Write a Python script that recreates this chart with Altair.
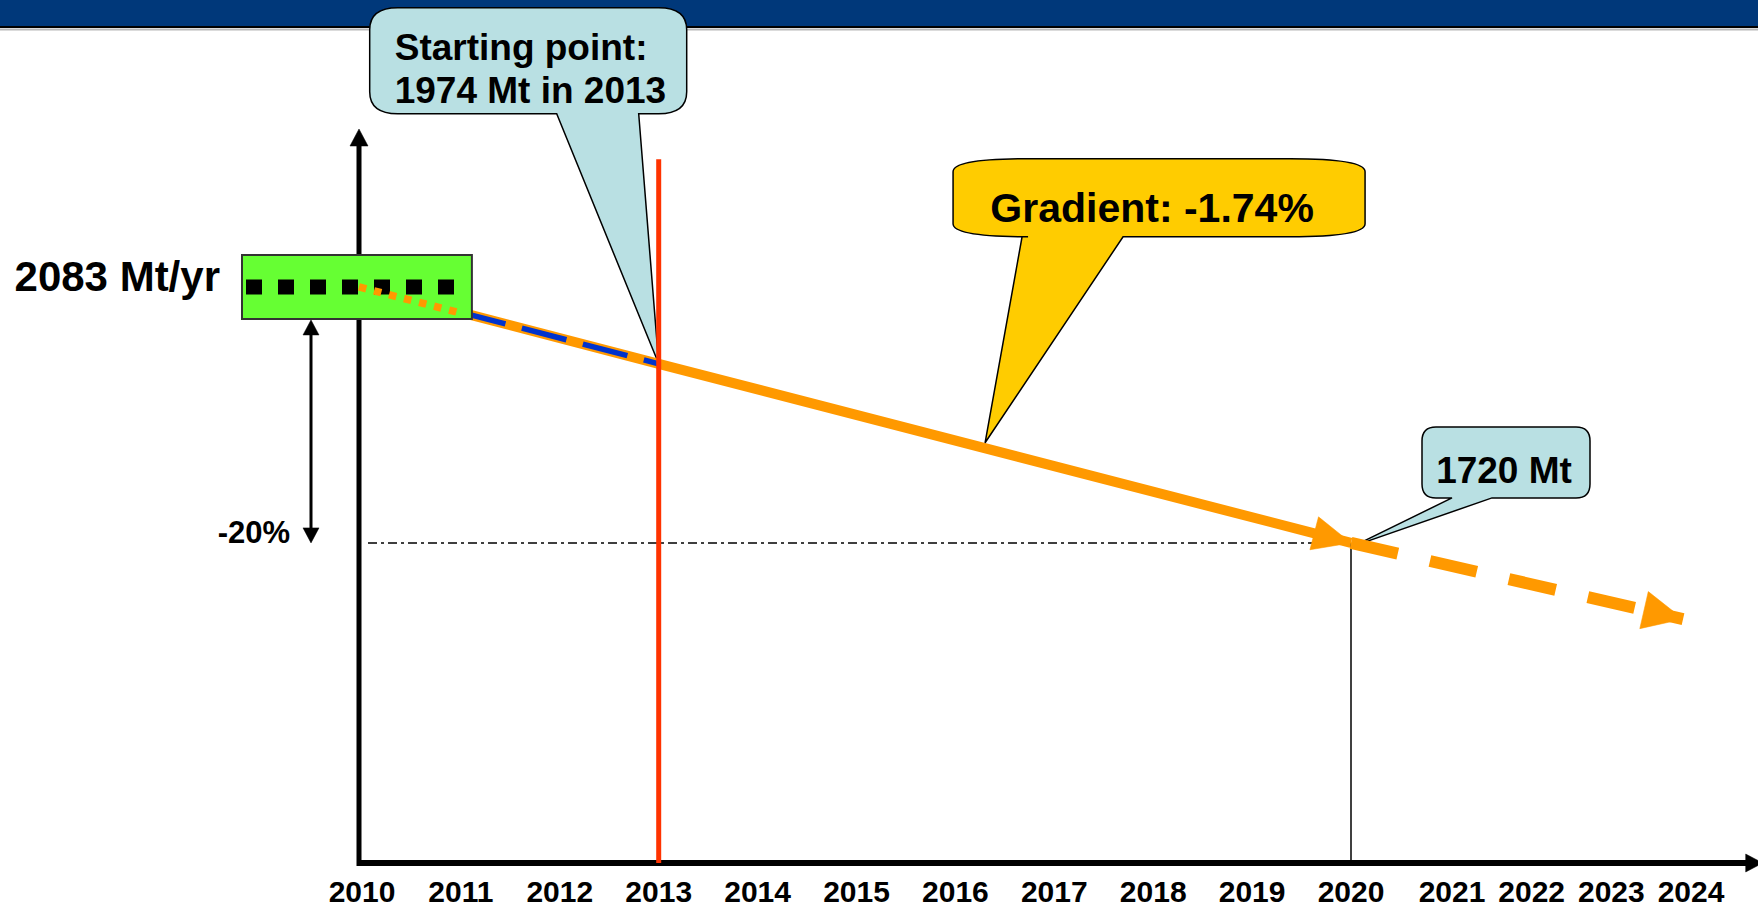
import altair as alt
import pandas as pd

# ------------------------------------------------------------------ data
tick_years = list(range(2010, 2025))
tick_labels = [str(y) for y in tick_years]

trend_years = [2010, 2011, 2013, 2020]
trend_values = [2083, 2047, 1974, 1720]      # Mt per year

hist_years = [2011, 2013]
hist_values = [2047, 1974]

proj_years = [2020, 2023.9]
proj_values = [1720, 1612]

base_year, base_value = 2010, 2083
start_year, start_value = 2013, 1974
target_year, target_value = 2020, 1720
gradient_year, gradient_value = 2016.3, 1862

base_label = "2083 Mt/yr"
cut_label = "-20%"
start_lines = ["Starting point:", "1974 Mt in 2013"]
target_label = "1720 Mt"
gradient_label = "Gradient: -1.74%"

axis_x = [2010, 2024.9]
axis_y = [1266, 2307]
marker_top = 2264

# ------------------------------------------------------------------ style
ORANGE = "#FF9900"
BLUE = "#0033CC"
RED = "#FF3300"
GREEN = "#66FF33"
CALLOUT = "#B9E0E3"
GOLD = "#FFCC00"
HEADER = "#00387A"
FONT = "Liberation Sans"
W, H = 1758, 909

xs = alt.Scale(domain=[2010, 2020, 2021, 2024], range=[362, 1351, 1452, 1691], nice=False, zero=False)
ys = alt.Scale(domain=[1266, 2307], range=[863, 129], nice=False, zero=False)


def X(f="x"):
    return alt.X(f"{f}:Q", scale=xs, axis=None)


def Y(f="y"):
    return alt.Y(f"{f}:Q", scale=ys, axis=None)


def df(**kw):
    return pd.DataFrame(kw)


def callout_path(L, R, T, B, bx1, bx2, rx, ry, tip=(0, 0)):
    tx, ty = tip
    return (f"M{bx1},{B} L{L + rx},{B} Q{L},{B} {L},{B - ry} L{L},{T + ry} "
            f"Q{L},{T} {L + rx},{T} L{R - rx},{T} Q{R},{T} {R},{T + ry} "
            f"L{R},{B - ry} Q{R},{B} {R - rx},{B} L{bx2},{B} L{tx},{ty} Z")


one = df(a=[0])

# header band
header = alt.Chart(one).mark_rect(color=HEADER).encode(
    x=alt.value(0), x2=alt.value(W), y=alt.value(0), y2=alt.value(26))
header_line = alt.Chart(one).mark_rule(color="#000000", strokeWidth=2).encode(
    x=alt.value(0), x2=alt.value(W), y=alt.value(27))
header_line2 = alt.Chart(one).mark_rule(color="#B8B8B8", strokeWidth=2).encode(
    x=alt.value(0), x2=alt.value(W), y=alt.value(29.5))

# reference lines
dashdot = alt.Chart(df(x=[base_year], x2=[target_year], y=[target_value])).mark_rule(
    color="black", strokeWidth=1.5, strokeDash=[9, 4, 3, 4], xOffset=6).encode(
    x=X(), x2="x2:Q", y=Y())
vline2020 = alt.Chart(df(x=[target_year], y=[axis_y[0]], y2=[target_value])).mark_rule(
    color="black", strokeWidth=1.5).encode(x=X(), y=Y(), y2="y2:Q")
red = alt.Chart(df(x=[start_year], y=[axis_y[0]], y2=[marker_top])).mark_rule(
    color=RED, strokeWidth=5).encode(x=X(), y=Y(), y2="y2:Q")

# axes
yaxis = alt.Chart(df(x=[axis_x[0]], y=[axis_y[0]], y2=[axis_y[1]])).mark_rule(
    color="black", strokeWidth=5, xOffset=-3, yOffset=3, y2Offset=14).encode(
    x=X(), y=Y(), y2="y2:Q")
yarrow = alt.Chart(df(x=[axis_x[0]], y=[axis_y[1]])).mark_point(
    shape="M0,0 L-9,17 L9,17 Z", size=4, filled=True, fill="black", stroke="black",
    strokeWidth=0.5, opacity=1, xOffset=-3).encode(x=X(), y=Y())
xaxis = alt.Chart(df(x=[axis_x[0]], x2=[axis_x[1]], y=[axis_y[0]])).mark_rule(
    color="black", strokeWidth=6, xOffset=-5, x2Offset=-14).encode(
    x=X(), x2="x2:Q", y=Y())
xarrow = alt.Chart(df(x=[axis_x[1]], y=[axis_y[0]])).mark_point(
    shape="M0,0 L-17,-9 L-17,9 Z", size=4, filled=True, fill="black", stroke="black",
    strokeWidth=0.5, opacity=1).encode(x=X(), y=Y())

ticks = alt.Chart(df(x=tick_years, y=[axis_y[0]] * len(tick_years), t=tick_labels)).mark_text(
    font=FONT, fontSize=30, fontWeight="bold", color="black", baseline="alphabetic",
    align="center", dy=39).encode(x=X(), y=Y(), text="t:N")

# trend lines
tr = df(x=trend_years, y=trend_values)
orange_solid = alt.Chart(tr.iloc[1:]).mark_line(
    color=ORANGE, strokeWidth=10, strokeCap="butt").encode(x=X(), y=Y())
blue = alt.Chart(df(x=hist_years, y=hist_values)).mark_line(
    color=BLUE, strokeWidth=5.5, strokeDash=[46, 17], strokeCap="butt").encode(x=X(), y=Y())
orange_dash = alt.Chart(df(x=proj_years, y=proj_values)).mark_line(
    color=ORANGE, strokeWidth=12, strokeDash=[48, 33], strokeCap="butt").encode(x=X(), y=Y())
arrow_solid = alt.Chart(df(x=[target_year], y=[target_value])).mark_point(
    shape="M0,0 L-38,-17 L-38,17 Z", size=4, filled=True, fill=ORANGE, stroke=ORANGE,
    strokeWidth=0.5, opacity=1, angle=14.6).encode(x=X(), y=Y())
arrow_dash = alt.Chart(df(x=[proj_years[-1]], y=[proj_values[-1]])).mark_point(
    shape="M0,0 L-40,-19 L-40,19 Z", size=4, filled=True, fill=ORANGE, stroke=ORANGE,
    strokeWidth=0.5, opacity=1, angle=12.9).encode(x=X(), y=Y())

# green base box
box = alt.Chart(df(x=[base_year], x2=[trend_years[1]], y=[base_value], y2=[base_value])).mark_rect(
    fill=GREEN, stroke="#333333", strokeWidth=2, xOffset=-120, x2Offset=11,
    yOffset=-32, y2Offset=32).encode(x=X(), x2="x2:Q", y=Y(), y2="y2:Q")
black_dots = alt.Chart(df(x=[base_year], x2=[trend_years[1]], y=[base_value])).mark_rule(
    color="black", strokeWidth=15, strokeDash=[16, 16], xOffset=-116, x2Offset=9).encode(
    x=X(), x2="x2:Q", y=Y())
orange_dots = alt.Chart(tr.iloc[:2]).mark_line(
    color=ORANGE, strokeWidth=7.5, strokeDash=[7.5, 8], strokeCap="butt", xOffset=-3).encode(x=X(), y=Y())

base_text = alt.Chart(df(x=[base_year], y=[base_value])).mark_text(
    text=base_label, font=FONT, fontSize=42, fontWeight="bold", color="black",
    align="right", baseline="alphabetic", dx=-142, dy=4).encode(x=X(), y=Y())

# -20 % double arrow
cut_rule = alt.Chart(df(x=[base_year], y=[base_value], y2=[target_value])).mark_rule(
    color="black", strokeWidth=3, xOffset=-51, yOffset=45, y2Offset=-13).encode(
    x=X(), y=Y(), y2="y2:Q")
cut_up = alt.Chart(df(x=[base_year], y=[base_value])).mark_point(
    shape="M0,0 L-8,15 L8,15 Z", size=4, filled=True, fill="black", stroke="black",
    strokeWidth=0.5, opacity=1, xOffset=-51, yOffset=33).encode(x=X(), y=Y())
cut_down = alt.Chart(df(x=[base_year], y=[target_value])).mark_point(
    shape="M0,0 L-8,-15 L8,-15 Z", size=4, filled=True, fill="black", stroke="black",
    strokeWidth=0.5, opacity=1, xOffset=-51).encode(x=X(), y=Y())
cut_text = alt.Chart(df(x=[base_year], y=[target_value])).mark_text(
    text=cut_label, font=FONT, fontSize=31, fontWeight="bold", color="black",
    align="right", baseline="alphabetic", dx=-72, dy=0).encode(x=X(), y=Y())

# callouts
start_pt = df(x=[start_year], y=[start_value])
start_shape = alt.Chart(start_pt).mark_point(
    shape=callout_path(-289, 28, -356, -250, -102, -20, 28, 22),
    size=4, filled=True, fill=CALLOUT, stroke="black", strokeWidth=1.5, opacity=1).encode(x=X(), y=Y())
start_t1 = alt.Chart(start_pt).mark_text(
    text=start_lines[0], font=FONT, fontSize=37, fontWeight="bold", color="black",
    align="left", baseline="alphabetic", dx=-264, dy=-304).encode(x=X(), y=Y())
start_t2 = alt.Chart(start_pt).mark_text(
    text=start_lines[1], font=FONT, fontSize=37, fontWeight="bold", color="black",
    align="left", baseline="alphabetic", dx=-264, dy=-261).encode(x=X(), y=Y())

tgt_pt = df(x=[target_year], y=[target_value])
tgt_shape = alt.Chart(tgt_pt).mark_point(
    shape=callout_path(71, 239, -116, -45, 101, 141, 14, 14, tip=(3, 3)),
    size=4, filled=True, fill=CALLOUT, stroke="black", strokeWidth=1.5, opacity=1).encode(x=X(), y=Y())
tgt_text = alt.Chart(tgt_pt).mark_text(
    text=target_label, font=FONT, fontSize=37, fontWeight="bold", color="black",
    align="center", baseline="alphabetic", dx=153, dy=-60).encode(x=X(), y=Y())

grad_pt = df(x=[gradient_year], y=[gradient_value])
grad_shape = alt.Chart(grad_pt).mark_point(
    shape=callout_path(-32, 380, -284, -206, 37, 138, 75, 13),
    size=4, filled=True, fill=GOLD, stroke="black", strokeWidth=1.5, opacity=1).encode(x=X(), y=Y())
grad_text = alt.Chart(grad_pt).mark_text(
    text=gradient_label, font=FONT, fontSize=41, fontWeight="bold", color="black",
    align="center", baseline="alphabetic", dx=167, dy=-221).encode(x=X(), y=Y())

chart = alt.layer(
    header, header_line, header_line2,
    dashdot, vline2020,
    yaxis, yarrow, xaxis, xarrow, ticks,
    start_shape, tgt_shape,
    orange_solid, blue, orange_dash, arrow_solid, arrow_dash,
    box, black_dots, orange_dots, base_text,
    cut_rule, cut_up, cut_down, cut_text,
    red,
    grad_shape,
    start_t1, start_t2, tgt_text, grad_text,
).properties(
    width=W, height=H, padding=0,
    autosize=alt.AutoSizeParams(type="none"),
    background="white",
).configure_view(strokeWidth=0)

chart.save("out.html", embed_options={"renderer": "svg", "actions": False})
